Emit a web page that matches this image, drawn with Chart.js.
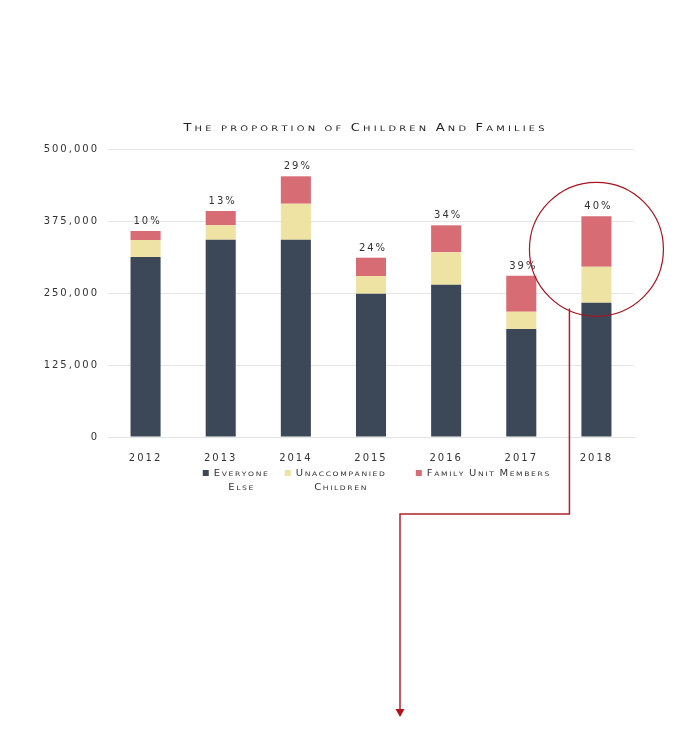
<!DOCTYPE html>
<html lang="en">
<head>
  <meta charset="UTF-8">
  <title>The proportion of Children And Families</title>
  <script src="https://cdn.jsdelivr.net/npm/chart.js"></script>
  <style>
    body {
      margin: 0;
      background: #ffffff;
    }
    canvas {
      display: block;
    }
  </style>
</head>
<body>

  <canvas id="famChart" width="686" height="746"></canvas>

  <script>
    const years = ['2012', '2013', '2014', '2015', '2016', '2017', '2018'];
    const everyoneElse = [312500, 342500, 342500, 248800, 264400, 187500, 233200];
    const unaccompanied = [29500, 25000, 62500, 30700, 56300, 30000, 62500];
    const familyUnits = [15600, 24900, 47600, 31800, 46800, 62500, 87500];
    const shareLabels = ['10%', '13%', '29%', '24%', '34%', '39%', '40%'];
    const yTicks = [0, 125000, 250000, 375000, 500000];

    const seriesNames = [['Everyone', 'Else'], ['Unaccompanied', 'Children'], ['Family Unit Members']];
    const colors = ['#3c4858', '#efe3a3', '#d76c74'];
    const circleRed = '#a8141f';
    const textColor = '#333333';
    const family = '"DejaVu Sans", sans-serif';

    function setSpacing(ctx, px) {
      if ('letterSpacing' in ctx) ctx.letterSpacing = px + 'px';
    }

    // hand-made small caps, stretched sideways like the extended face of the original
    // st = { cap, small, sx, gap }
    function capsWidth(ctx, text, st) {
      ctx.save();
      setSpacing(ctx, 0);
      let w = 0;
      for (const ch of text) {
        const up = ch.toUpperCase();
        const isCap = ch === up && ch !== ' ';
        ctx.font = (isCap ? st.cap : st.small) + 'px ' + family;
        w += ctx.measureText(up).width * st.sx + st.gap;
      }
      ctx.restore();
      return w - st.gap;
    }
    function capsText(ctx, text, cx, y, st) {
      let x = cx - capsWidth(ctx, text, st) / 2;
      ctx.save();
      setSpacing(ctx, 0);
      ctx.textAlign = 'left';
      ctx.textBaseline = 'alphabetic';
      for (const ch of text) {
        const up = ch.toUpperCase();
        const isCap = ch === up && ch !== ' ';
        ctx.font = (isCap ? st.cap : st.small) + 'px ' + family;
        ctx.save();
        ctx.translate(x, y);
        ctx.scale(st.sx, 1);
        ctx.fillText(up, 0, 0);
        ctx.restore();
        x += ctx.measureText(up).width * st.sx + st.gap;
      }
      ctx.restore();
    }

    const titleStyle = { cap: 10, small: 7.6, sx: 1.3, gap: 3.2 };
    const legendStyle = { cap: 8, small: 6.1, sx: 1.25, gap: 1.6 };

    // extra drawing: title, % above bars, legend, circle + arrow
    const extras = {
      id: 'extras',
      beforeLayout(chart) { setSpacing(chart.ctx, 2); },
      beforeDraw(chart) { setSpacing(chart.ctx, 2); },
      afterDatasetsDraw(chart) {
        const ctx = chart.ctx;
        const x = chart.scales.x, y = chart.scales.y;
        ctx.save();
        setSpacing(ctx, 2);
        ctx.font = '10px ' + family;
        ctx.fillStyle = textColor;
        ctx.textAlign = 'center';
        ctx.textBaseline = 'alphabetic';
        years.forEach((yr, i) => {
          const total = everyoneElse[i] + unaccompanied[i] + familyUnits[i];
          ctx.fillText(shareLabels[i], x.getPixelForValue(i) + 2, y.getPixelForValue(total) - 7);
        });
        ctx.restore();
      },
      afterDraw(chart) {
        const ctx = chart.ctx;
        const area = chart.chartArea;
        const x = chart.scales.x, y = chart.scales.y;
        ctx.save();

        // title
        ctx.fillStyle = '#222222';
        capsText(ctx, 'The proportion of Children And Families', 364, 131, titleStyle);

        // legend
        const gaps = [17, 31], box = 6, boxGap = 5;
        const widths = seriesNames.map(lines => Math.max(...lines.map(l => capsWidth(ctx, l, legendStyle))));
        let total = widths.reduce((a, b) => a + b, 0) + seriesNames.length * (box + boxGap) + gaps[0] + gaps[1];
        let lx = (area.left + area.right) / 2 - total / 2 + 5;
        const ly = 473;
        seriesNames.forEach((lines, i) => {
          ctx.fillStyle = colors[i];
          ctx.fillRect(lx, ly - 3, box, box);
          const cx = lx + box + boxGap + widths[i] / 2;
          ctx.fillStyle = textColor;
          lines.forEach((l, k) => capsText(ctx, l, cx, ly + 3 + k * 14, legendStyle));
          lx += box + boxGap + widths[i] + (gaps[i] || 0);
        });

        // circle around last bar
        const last = years.length - 1;
        const cx = x.getPixelForValue(last);
        const top = y.getPixelForValue(everyoneElse[last] + unaccompanied[last] + familyUnits[last]);
        const cy = top + 33;
        const r = 67;
        ctx.strokeStyle = circleRed;
        ctx.lineWidth = 1.2;
        ctx.beginPath();
        ctx.arc(cx, cy, r, 0, Math.PI * 2);
        ctx.stroke();

        // elbow arrow leading down
        const sx = cx - 27;
        const sy = cy + Math.sqrt(r * r - 27 * 27) - 2;
        ctx.strokeStyle = '#b3202b';
        ctx.lineWidth = 1.5;
        ctx.beginPath();
        ctx.moveTo(sx, sy);
        ctx.lineTo(sx, 514);
        ctx.lineTo(400, 514);
        ctx.lineTo(400, 709);
        ctx.stroke();
        ctx.fillStyle = '#b3101c';
        ctx.beginPath();
        ctx.moveTo(395.5, 709);
        ctx.lineTo(404.5, 709);
        ctx.lineTo(400, 717);
        ctx.closePath();
        ctx.fill();

        ctx.restore();
      }
    };

    const ctx = document.getElementById('famChart').getContext('2d');
    const chart = new Chart(ctx, {
      type: 'bar',
      data: {
        labels: years,
        datasets: [
          { label: 'Everyone Else', data: everyoneElse, backgroundColor: colors[0] },
          { label: 'Unaccompanied Children', data: unaccompanied, backgroundColor: colors[1] },
          { label: 'Family Unit Members', data: familyUnits, backgroundColor: colors[2] }
        ]
      },
      options: {
        responsive: false,
        animation: false,
        devicePixelRatio: 1,
        layout: { padding: { top: 149, right: 52, bottom: 285, left: 0 } },
        datasets: { bar: { categoryPercentage: 1, barPercentage: 0.4 } },
        plugins: {
          legend: { display: false },
          title: { display: false },
          tooltip: { enabled: false }
        },
        scales: {
          x: {
            stacked: true,
            grid: { display: false },
            border: { color: '#e4e4e4' },
            ticks: { color: textColor, font: { family: family, size: 10 }, padding: 7 },
            afterFit(scale) { scale.height = 24; }
          },
          y: {
            stacked: true,
            min: 0,
            max: 500000,
            afterBuildTicks(scale) { scale.ticks = yTicks.map(v => ({ value: v })); },
            grid: { color: '#e6e6e6', drawTicks: false },
            border: { display: false },
            ticks: {
              color: textColor,
              font: { family: family, size: 10 },
              padding: 9,
              callback: v => v.toLocaleString('en-US')
            },
            afterFit(scale) { scale.width = 108; }
          }
        }
      },
      plugins: [extras]
    });
  </script>

</body>
</html>
